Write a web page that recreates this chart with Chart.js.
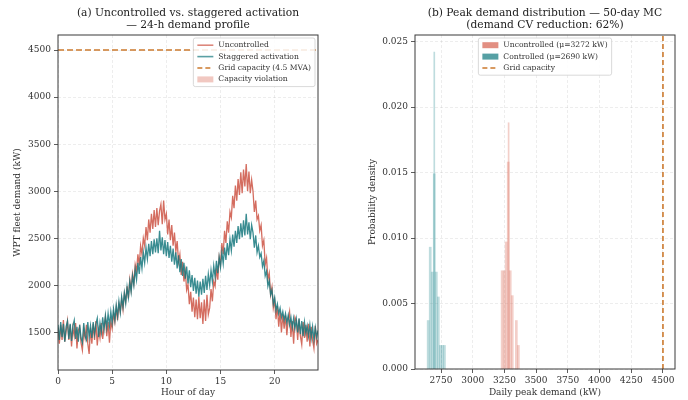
<!DOCTYPE html>
<html>
<head>
<meta charset="utf-8">
<script src="https://cdn.jsdelivr.net/npm/chart.js@4.4.1/dist/chart.umd.min.js"></script>
<style>
  body { margin: 0; background: #fff; width: 688px; height: 400px; position: relative; overflow: hidden; }
  .panel { position: absolute; top: 0; height: 400px; }
  #wrapA { left: 0; width: 330px; }
  #wrapB { left: 344px; width: 344px; }
</style>
</head>
<body>
<div class="panel" id="wrapA"><canvas id="chartA"></canvas></div>
<div class="panel" id="wrapB"><canvas id="chartB"></canvas></div>
<script>
// ---- data ----
const stepHours = 0.125;
const uncontrolledKW = [
  1550, 1380, 1580, 1420, 1630, 1400, 1510, 1620,
  1420, 1580, 1350, 1550, 1460, 1600, 1330, 1520,
  1560, 1390, 1310, 1530, 1440, 1580, 1380, 1270,
  1550, 1380, 1590, 1420, 1620, 1360, 1530, 1440,
  1600, 1430, 1560, 1660, 1460, 1610, 1390, 1620,
  1540, 1700, 1610, 1760, 1630, 1800, 1720, 1850,
  1740, 1910, 1830, 1990, 1860, 2060, 1950, 2120,
  2020, 2220, 2150, 2330, 2210, 2420, 2330, 2500,
  2420, 2620, 2480, 2700, 2560, 2760, 2600, 2800,
  2620, 2820, 2640, 2790, 2860, 2650, 2900, 2700,
  2760, 2540, 2700, 2480, 2640, 2420, 2560, 2360,
  2470, 2250, 2330, 2110, 2250, 2040, 2150, 1950,
  2010, 1800, 1930, 1720, 1870, 1660, 1850, 1640,
  1880, 1650, 1820, 1590, 1850, 1620, 1900, 1690,
  1760, 1960, 1830, 2040, 1990, 2180, 2060, 2300,
  2220, 2450, 2330, 2580, 2450, 2680, 2560, 2780,
  2720, 2950, 2820, 3060, 2900, 3130, 2960, 3200,
  2980, 3230, 3050, 3290, 3000, 3210, 2980, 3120,
  3000, 2780, 2900, 2700, 2740, 2580, 2640, 2420,
  2480, 2220, 2290, 2060, 2130, 1900, 1980, 1760,
  1840, 1640, 1780, 1560, 1720, 1500, 1690, 1540,
  1680, 1470, 1640, 1720, 1450, 1620, 1380, 1660,
  1620, 1420, 1640, 1460, 1370, 1610, 1440, 1580,
  1400, 1590, 1350, 1560, 1420, 1330, 1570, 1380,
  1420
];
const staggeredKW = [
  1580, 1420, 1610, 1450, 1590, 1400, 1560, 1620,
  1430, 1590, 1410, 1570, 1630, 1430, 1560, 1400,
  1580, 1440, 1390, 1600, 1460, 1420, 1610, 1450,
  1570, 1440, 1610, 1480, 1590, 1650, 1450, 1600,
  1500, 1660, 1530, 1680, 1550, 1700, 1570, 1720,
  1600, 1750, 1630, 1790, 1670, 1830, 1710, 1880,
  1770, 1920, 1810, 1980, 1870, 2040, 1930, 2100,
  2000, 2170, 2060, 2240, 2120, 2300, 2180, 2350,
  2240, 2400, 2280, 2440, 2310, 2470, 2330, 2490,
  2350, 2500, 2340, 2580, 2370, 2510, 2330, 2480,
  2310, 2460, 2290, 2420, 2250, 2390, 2220, 2350,
  2180, 2320, 2140, 2280, 2100, 2240, 2070, 2200,
  2020, 2160, 1980, 2110, 1940, 2080, 1910, 2050,
  1880, 2040, 1900, 2070, 1920, 2100, 1950, 2120,
  2000, 2160, 2040, 2210, 2090, 2260, 2130, 2300,
  2190, 2350, 2230, 2400, 2270, 2450, 2320, 2490,
  2370, 2540, 2410, 2580, 2450, 2630, 2490, 2660,
  2510, 2690, 2530, 2760, 2540, 2670, 2490, 2640,
  2560, 2400, 2530, 2350, 2420, 2300, 2340, 2200,
  2260, 2100, 2150, 1990, 2050, 1900, 1950, 1800,
  1870, 1730, 1800, 1700, 1760, 1660, 1720, 1630,
  1700, 1600, 1680, 1580, 1660, 1550, 1650, 1540,
  1640, 1500, 1650, 1480, 1620, 1460, 1610, 1490,
  1570, 1460, 1580, 1440, 1560, 1420, 1550, 1450,
  1520
];
const hours = uncontrolledKW.map((_, i) => i * stepHours);
const gridCapacityKW = 4500;
const hourTicks = [0, 5, 10, 15, 20];
const demandTicksKW = [1500, 2000, 2500, 3000, 3500, 4000, 4500];

// histogram (bin centres in kW, density)
const uncontrolledBinKW = [3232, 3248, 3264, 3280, 3296, 3312, 3328, 3344, 3360];
const uncontrolledDensity = [0.0075, 0.0075, 0.0097, 0.0158, 0.0075, 0.0056, 0, 0.0037, 0.0018];
const uncontrolledSpikeKW = [3283];
const uncontrolledSpikeDensity = [0.0188];
const controlledBinKW = [2649, 2665, 2681, 2697, 2713, 2729, 2745, 2761, 2777];
const controlledDensity = [0.0037, 0.0093, 0.0074, 0.0149, 0.0074, 0.0055, 0.0018, 0.0018, 0.0018];
const controlledSpikeKW = [2697];
const controlledSpikeDensity = [0.0242];
const uncontrolledMeanKW = 3272;
const controlledMeanKW = 2690;
const peakTicksKW = [2750, 3000, 3250, 3500, 3750, 4000, 4250, 4500];
const densityTicks = [0, 0.005, 0.010, 0.015, 0.020, 0.025];
const densityMax = 0.0255;

// ---- style ----
const SERIF = "'DejaVu Serif', serif";
const RED = 'rgba(205,84,68,0.85)';
const TEAL = 'rgba(22,120,126,0.85)';
const ORANGE = '#cc7a2e';
const tickFont = { family: SERIF, size: 9 };
const labelFont = { family: SERIF, size: 9 };
const gridStyle = { color: 'rgba(0,0,0,0.10)', lineWidth: 0.7, tickLength: 4, tickColor: '#333', tickWidth: 0.8 };
const borderStyle = { display: false, dash: [3, 2] };
const fixTicks = values => scale => { scale.ticks = values.map(v => ({ value: v })); };

const framePlugin = {
  id: 'frame',
  afterDraw(chart) {
    const { ctx, chartArea: a } = chart;
    ctx.save();
    ctx.strokeStyle = '#3a3a3a';
    ctx.lineWidth = 1;
    ctx.strokeRect(a.left, a.top, a.width, a.height);
    ctx.restore();
  }
};

// title centred over the plot area, like matplotlib
const axTitle = {
  id: 'axTitle',
  afterDraw(chart, args, opts) {
    const { ctx, chartArea: a } = chart;
    ctx.save();
    ctx.font = '10.7px ' + SERIF;
    ctx.fillStyle = '#222';
    ctx.textAlign = 'center';
    ctx.textBaseline = 'middle';
    opts.lines.forEach((t, i) => ctx.fillText(t, (a.left + a.right) / 2, 13 + i * 12.5));
    ctx.restore();
  }
};

// framed legend inside the axes
const boxLegend = {
  id: 'boxLegend',
  afterDraw(chart, args, opts) {
    const { ctx, chartArea: a } = chart;
    const items = opts.items;
    ctx.save();
    ctx.font = '7.6px ' + SERIF;
    const handleW = 16, gap = 5, pad = 4, rowH = 11.4;
    const textW = Math.max(...items.map(it => ctx.measureText(it.text).width));
    const w = pad * 2 + handleW + gap + textW;
    const h = 3 + rowH * items.length;
    const x = opts.align === 'right' ? a.right - 3 - w : (a.left + a.right) / 2 - w / 2;
    const y = a.top + 3;
    ctx.fillStyle = 'rgba(255,255,255,0.85)';
    ctx.strokeStyle = '#cfcfcf';
    ctx.lineWidth = 0.8;
    ctx.beginPath();
    ctx.roundRect(x, y, w, h, 2);
    ctx.fill();
    ctx.stroke();
    items.forEach((it, i) => {
      const cy = y + 1.5 + rowH * (i + 0.5);
      if (it.kind === 'line') {
        ctx.strokeStyle = it.color;
        ctx.lineWidth = it.width || 1.6;
        ctx.setLineDash(it.dash || []);
        ctx.beginPath();
        ctx.moveTo(x + pad, cy);
        ctx.lineTo(x + pad + handleW, cy);
        ctx.stroke();
        ctx.setLineDash([]);
      } else {
        ctx.fillStyle = it.color;
        ctx.fillRect(x + pad, cy - 3, handleW, 6);
      }
      ctx.fillStyle = '#333';
      ctx.textBaseline = 'middle';
      ctx.fillText(it.text, x + pad + handleW + gap, cy);
    });
    ctx.restore();
  }
};

Chart.register(framePlugin, axTitle, boxLegend);

// ---- (a) 24-h demand profile ----
new Chart(document.getElementById('chartA'), {
  type: 'line',
  data: {
    datasets: [
      {
        label: 'Uncontrolled',
        data: hours.map((h, i) => ({ x: h, y: uncontrolledKW[i] })),
        borderColor: RED, borderWidth: 1.3, pointRadius: 0, order: 2
      },
      {
        label: 'Staggered activation',
        data: hours.map((h, i) => ({ x: h, y: staggeredKW[i] })),
        borderColor: TEAL, borderWidth: 1.3, pointRadius: 0, order: 1
      },
      {
        label: 'Grid capacity (4.5 MVA)',
        data: [{ x: hours[0], y: gridCapacityKW }, { x: hours[hours.length - 1], y: gridCapacityKW }],
        borderColor: ORANGE, borderWidth: 1.6, borderDash: [6, 3], pointRadius: 0, order: 0
      }
    ]
  },
  options: {
    responsive: true, maintainAspectRatio: false, animation: false, events: [],
    layout: { padding: { top: 35, right: 12, bottom: 0, left: 0 } },
    plugins: {
      legend: { display: false }, tooltip: { enabled: false },
      axTitle: { lines: ['(a) Uncontrolled vs. staggered activation', '\u2014 24-h demand profile'] },
      boxLegend: {
        align: 'right',
        items: [
          { kind: 'line', color: 'rgba(205,84,68,0.7)', text: 'Uncontrolled' },
          { kind: 'line', color: 'rgba(22,120,126,0.7)', text: 'Staggered activation' },
          { kind: 'line', color: ORANGE, dash: [5, 3], text: 'Grid capacity (4.5 MVA)' },
          { kind: 'rect', color: 'rgba(214,96,77,0.35)', text: 'Capacity violation' }
        ]
      }
    },
    scales: {
      x: {
        type: 'linear', min: 0, max: 24,
        afterBuildTicks: fixTicks(hourTicks),
        ticks: { font: tickFont, color: '#333', padding: 2, maxRotation: 0, autoSkip: false },
        grid: gridStyle, border: borderStyle,
        title: { display: true, text: 'Hour of day', font: labelFont, color: '#333', padding: { top: 0, bottom: 2 } },
        afterFit: s => { s.height = 30; }
      },
      y: {
        min: 1100, max: 4660,
        afterBuildTicks: fixTicks(demandTicksKW),
        ticks: { font: tickFont, color: '#333', padding: 3, autoSkip: false, callback: v => String(v) },
        grid: gridStyle, border: borderStyle,
        title: { display: true, text: 'WPT fleet demand (kW)', font: labelFont, color: '#333', padding: { top: 12, bottom: 0 } },
        afterFit: s => { s.width = 58; }
      }
    }
  }
});

// ---- (b) peak demand distribution ----
const toPoints = (xs, ys) => xs.map((x, i) => ({ x: x, y: ys[i] }));
new Chart(document.getElementById('chartB'), {
  type: 'bar',
  data: {
    datasets: [
      {
        label: 'Uncontrolled (\u03bc=' + uncontrolledMeanKW + ' kW)',
        data: toPoints(uncontrolledBinKW, uncontrolledDensity),
        backgroundColor: 'rgba(214,96,77,0.30)', barThickness: 2.03, borderWidth: 0
      },
      {
        label: 'Uncontrolled spike',
        data: toPoints(uncontrolledSpikeKW, uncontrolledSpikeDensity),
        backgroundColor: 'rgba(214,96,77,0.30)', barThickness: 1, borderWidth: 0
      },
      {
        label: 'Controlled (\u03bc=' + controlledMeanKW + ' kW)',
        data: toPoints(controlledBinKW, controlledDensity),
        backgroundColor: 'rgba(40,140,146,0.30)', barThickness: 2.03, borderWidth: 0
      },
      {
        label: 'Controlled spike',
        data: toPoints(controlledSpikeKW, controlledSpikeDensity),
        backgroundColor: 'rgba(40,140,146,0.30)', barThickness: 1, borderWidth: 0
      },
      {
        type: 'line', label: 'Grid capacity',
        data: [{ x: gridCapacityKW, y: 0 }, { x: gridCapacityKW, y: densityMax }],
        borderColor: ORANGE, borderWidth: 1.6, borderDash: [5, 3], pointRadius: 0
      }
    ]
  },
  options: {
    responsive: true, maintainAspectRatio: false, animation: false, events: [],
    grouped: false,
    layout: { padding: { top: 35, right: 13, bottom: 0, left: 0 } },
    plugins: {
      legend: { display: false }, tooltip: { enabled: false },
      axTitle: { lines: ['(b) Peak demand distribution \u2014 50-day MC', '(demand CV reduction: 62%)'] },
      boxLegend: {
        align: 'center',
        items: [
          { kind: 'rect', color: 'rgba(214,96,77,0.7)', text: 'Uncontrolled (\u03bc=' + uncontrolledMeanKW + ' kW)' },
          { kind: 'rect', color: 'rgba(30,128,134,0.75)', text: 'Controlled (\u03bc=' + controlledMeanKW + ' kW)' },
          { kind: 'line', color: ORANGE, dash: [5, 3], text: 'Grid capacity' }
        ]
      }
    },
    scales: {
      x: {
        type: 'linear', min: 2545, max: 4595, offset: false,
        afterBuildTicks: fixTicks(peakTicksKW),
        ticks: { font: tickFont, color: '#333', padding: 2, maxRotation: 0, autoSkip: false, callback: v => String(v) },
        grid: Object.assign({ offset: false }, gridStyle), border: borderStyle,
        title: { display: true, text: 'Daily peak demand (kW)', font: labelFont, color: '#333', padding: { top: 0, bottom: 2 } },
        afterFit: s => { s.height = 31; }
      },
      y: {
        min: 0, max: densityMax,
        afterBuildTicks: fixTicks(densityTicks),
        ticks: { font: tickFont, color: '#333', padding: 3, autoSkip: false, callback: v => v.toFixed(3) },
        grid: gridStyle, border: borderStyle,
        title: { display: true, text: 'Probability density', font: labelFont, color: '#333', padding: { top: 23, bottom: 0 } },
        afterFit: s => { s.width = 71; }
      }
    }
  }
});
</script>
</body>
</html>
